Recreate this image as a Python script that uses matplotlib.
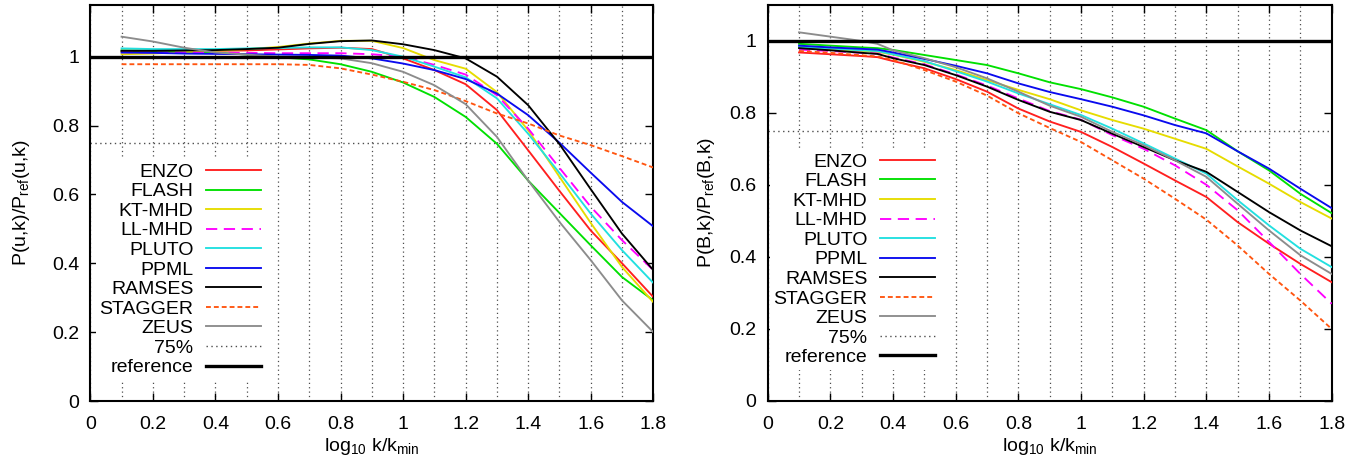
import matplotlib
matplotlib.use("Agg")
import matplotlib.pyplot as plt
from matplotlib.ticker import MultipleLocator, FuncFormatter

plt.rcParams['font.family'] = ['Liberation Sans', 'DejaVu Sans']
plt.rcParams['mathtext.fontset'] = 'custom'
plt.rcParams['mathtext.rm'] = 'Liberation Sans'
plt.rcParams['mathtext.it'] = 'Liberation Sans:italic'
plt.rcParams['font.size'] = 14

# ---------------- data ----------------
codes = ["ENZO", "FLASH", "KT-MHD", "LL-MHD", "PLUTO", "PPML", "RAMSES", "STAGGER", "ZEUS"]

# left panel: velocity spectra ratio
k_u = [0.1, 0.2, 0.3, 0.4, 0.5, 0.6, 0.7, 0.8, 0.9, 1.0, 1.1, 1.2, 1.3, 1.4, 1.5, 1.6, 1.7, 1.8]
enzo_u = [1.015, 1.015, 1.015, 1.017, 1.018, 1.021, 1.024, 1.026, 1.022, 0.995, 0.961, 0.920, 0.845, 0.728, 0.610, 0.495, 0.400, 0.302]
flash_u = [1.018, 1.017, 1.015, 1.012, 1.006, 0.998, 0.992, 0.978, 0.956, 0.925, 0.883, 0.825, 0.747, 0.640, 0.546, 0.452, 0.360, 0.292]
ktmhd_u = [1.007, 1.009, 1.013, 1.017, 1.022, 1.028, 1.038, 1.046, 1.046, 1.025, 0.990, 0.965, 0.897, 0.786, 0.651, 0.517, 0.389, 0.287]
llmhd_u = [1.013, 1.012, 1.012, 1.011, 1.011, 1.010, 1.010, 1.010, 1.007, 1.000, 0.976, 0.948, 0.888, 0.791, 0.677, 0.564, 0.467, 0.380]
pluto_u = [1.024, 1.022, 1.022, 1.022, 1.024, 1.025, 1.027, 1.027, 1.019, 1.000, 0.971, 0.940, 0.879, 0.776, 0.662, 0.544, 0.438, 0.343]
ppml_u = [1.012, 1.011, 1.009, 1.008, 1.007, 1.006, 1.005, 1.003, 0.995, 0.980, 0.961, 0.935, 0.893, 0.830, 0.750, 0.663, 0.578, 0.507]
ramses_u = [1.017, 1.017, 1.018, 1.019, 1.022, 1.026, 1.037, 1.045, 1.047, 1.036, 1.019, 0.995, 0.942, 0.859, 0.746, 0.615, 0.486, 0.380]
stagger_u = [0.978, 0.978, 0.978, 0.978, 0.978, 0.978, 0.976, 0.966, 0.948, 0.927, 0.903, 0.871, 0.835, 0.806, 0.771, 0.743, 0.711, 0.678]
zeus_u = [1.058, 1.044, 1.026, 1.012, 1.006, 1.000, 0.998, 0.995, 0.981, 0.956, 0.917, 0.862, 0.767, 0.640, 0.520, 0.409, 0.292, 0.200]

# right panel: magnetic spectra ratio
k_b = [0.1, 0.2, 0.3, 0.35, 0.4, 0.5, 0.6, 0.7, 0.8, 0.9, 1.0, 1.1, 1.2, 1.3, 1.4, 1.5, 1.6, 1.7, 1.8]
enzo_b = [0.968, 0.963, 0.958, 0.955, 0.944, 0.924, 0.894, 0.859, 0.812, 0.776, 0.747, 0.705, 0.659, 0.612, 0.566, 0.496, 0.436, 0.380, 0.329]
flash_b = [0.992, 0.987, 0.982, 0.980, 0.975, 0.961, 0.947, 0.933, 0.910, 0.885, 0.866, 0.843, 0.817, 0.784, 0.752, 0.693, 0.640, 0.575, 0.521]
ktmhd_b = [0.982, 0.977, 0.972, 0.970, 0.962, 0.942, 0.919, 0.891, 0.864, 0.838, 0.807, 0.780, 0.756, 0.728, 0.700, 0.651, 0.603, 0.552, 0.506]
llmhd_b = [0.976, 0.972, 0.967, 0.965, 0.954, 0.935, 0.907, 0.876, 0.840, 0.805, 0.781, 0.738, 0.700, 0.654, 0.600, 0.529, 0.441, 0.352, 0.269]
pluto_b = [0.984, 0.979, 0.974, 0.972, 0.963, 0.944, 0.916, 0.887, 0.854, 0.824, 0.794, 0.756, 0.715, 0.673, 0.631, 0.557, 0.487, 0.422, 0.371]
ppml_b = [0.987, 0.982, 0.978, 0.976, 0.968, 0.950, 0.931, 0.910, 0.882, 0.858, 0.838, 0.817, 0.793, 0.766, 0.743, 0.693, 0.645, 0.589, 0.535]
ramses_b = [0.980, 0.974, 0.967, 0.964, 0.952, 0.933, 0.905, 0.873, 0.836, 0.803, 0.780, 0.742, 0.705, 0.668, 0.636, 0.580, 0.524, 0.473, 0.429]
stagger_b = [0.972, 0.967, 0.960, 0.957, 0.947, 0.919, 0.887, 0.848, 0.799, 0.758, 0.719, 0.668, 0.617, 0.561, 0.503, 0.431, 0.352, 0.278, 0.199]
zeus_b = [1.024, 1.012, 1.000, 0.992, 0.974, 0.952, 0.927, 0.896, 0.859, 0.820, 0.789, 0.747, 0.710, 0.668, 0.622, 0.547, 0.473, 0.404, 0.352]

threshold = 0.75
reference = 1.0
x_ticks = [0.0, 0.2, 0.4, 0.6, 0.8, 1.0, 1.2, 1.4, 1.6, 1.8]
y_ticks = [0.0, 0.2, 0.4, 0.6, 0.8, 1.0]

# ---------------- styles ----------------
colors = ["#ff1f1f", "#00e000", "#e6dc00", "#ff00ff", "#22e0e0", "#0a0aee", "#000000", "#ff5510", "#8c8c8c"]
dashes = [None, None, None, (0, (6, 3.5)), None, None, None, (0, (2.6, 1.6)), None]
LW = 1.35
FS = 14

fig = plt.figure(figsize=(13.72, 4.66), dpi=100)
W, H = 1372.0, 466.0
ax_l = fig.add_axes([90.3 / W, 65 / H, 563 / W, 396 / H])
ax_r = fig.add_axes([767.7 / W, 65.5 / H, 564 / W, 395.5 / H])

panels = [
    (ax_l, k_u, [enzo_u, flash_u, ktmhd_u, llmhd_u, pluto_u, ppml_u, ramses_u, stagger_u, zeus_u],
     1.15, r"P(u,k)/P$_{\mathrm{ref}}$(u,k)", (0.558, 0.702), -0.1035),
    (ax_r, k_b, [enzo_b, flash_b, ktmhd_b, llmhd_b, pluto_b, ppml_b, ramses_b, stagger_b, zeus_b],
     1.10, r"P(B,k)/P$_{\mathrm{ref}}$(B,k)", (0.546, 0.699), -0.090),
]

fmt = FuncFormatter(lambda v, p: "%g" % round(v, 3))

for ax, kx, series, ytop, ylabel, anchor, ylab_x in panels:
    handles = []
    for name, vals, c, d in zip(codes, series, colors, dashes):
        if d is None:
            ln, = ax.plot(kx, vals, color=c, lw=LW, label=name, zorder=3)
        else:
            ln, = ax.plot(kx, vals, color=c, lw=LW, linestyle=d, label=name, zorder=3)
        handles.append(ln)
    h75 = ax.axhline(threshold, color="0.3", lw=1.0, linestyle=(0, (1, 2.5)), label="75%", zorder=2)
    href = ax.axhline(reference, color="black", lw=2.4, label="reference", zorder=4)
    handles += [h75, href]

    ax.set_xlim(0, 1.8)
    ax.set_ylim(0, ytop)
    ax.set_xticks(x_ticks)
    ax.set_yticks(y_ticks)
    ax.xaxis.set_minor_locator(MultipleLocator(0.1))
    ax.xaxis.set_major_formatter(fmt)
    ax.yaxis.set_major_formatter(fmt)
    ax.tick_params(which="both", direction="in", top=True, right=True, labelsize=FS)
    ax.tick_params(which="major", length=6, width=1.0)
    ax.tick_params(axis="x", which="major", pad=11)
    ax.tick_params(axis="y", which="major", pad=8)
    ax.tick_params(which="minor", length=0)
    ax.grid(True, axis="x", which="both", color="0.3", lw=0.9, linestyle=(0, (1, 2.5)), zorder=1)
    for s in ax.spines.values():
        s.set_linewidth(1.5)
    ax.set_xlabel(r"log$_{\mathrm{10}}$ k/k$_{\mathrm{min}}$", fontsize=FS, labelpad=2)
    ax.set_ylabel(ylabel, fontsize=FS)
    ax.yaxis.set_label_coords(ylab_x, 0.5)

    leg = ax.legend(handles=handles, loc="upper right", bbox_to_anchor=anchor,
                    bbox_transform=ax.transData, markerfirst=False, fontsize=FS,
                    handlelength=2.8, handletextpad=0.67, labelspacing=0.10,
                    borderpad=0.2, borderaxespad=0.0, frameon=True, fancybox=False)
    leg.get_frame().set_facecolor("white")
    leg.get_frame().set_edgecolor("none")
    leg.get_frame().set_alpha(1.0)
    leg.set_zorder(5)

fig.savefig("out.png", dpi=100)
